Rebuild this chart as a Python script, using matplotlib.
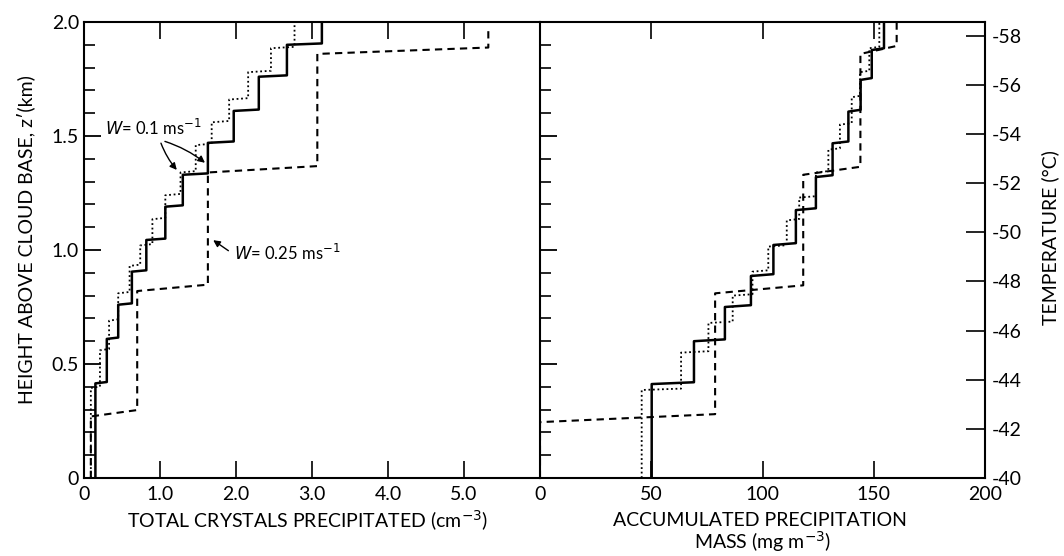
import matplotlib
matplotlib.use("Agg")
import matplotlib.pyplot as plt
from matplotlib.ticker import MultipleLocator, FixedLocator

plt.rcParams['font.family'] = ['Lato', 'DejaVu Sans']

# left panel: total crystals precipitated (cm-3); x between jumps, z = jump heights (km)
crys_solid_x = [0.15, 0.30, 0.45, 0.63, 0.82, 1.07, 1.30, 1.63, 1.97, 2.30, 2.67, 3.13]
crys_solid_z = [0.415, 0.61, 0.76, 0.905, 1.044, 1.19, 1.33, 1.47, 1.61, 1.76, 1.90]
crys_dot_x = [0.09, 0.21, 0.33, 0.45, 0.60, 0.74, 0.90, 1.07, 1.27, 1.47, 1.68, 1.91, 2.16, 2.46, 2.77]
crys_dot_z = [0.395, 0.56, 0.69, 0.81, 0.93, 1.02, 1.135, 1.24, 1.34, 1.46, 1.56, 1.66, 1.78, 1.885]
crys_dash_x = [0.09, 0.70, 1.63, 3.07, 5.32]
crys_dash_z = [0.27, 0.82, 1.34, 1.86]

# right panel: accumulated precipitation mass (mg m-3)
mass_solid_x = [50.2, 69.2, 83.1, 94.8, 104.9, 115.0, 124.0, 131.5, 138.6, 144.1, 149.1, 154.6]
mass_solid_z = [0.412, 0.60, 0.75, 0.886, 1.022, 1.175, 1.32, 1.468, 1.607, 1.746, 1.877]
mass_dot_x = [45.7, 63.4, 75.7, 86.6, 95.5, 102.6, 110.9, 116.5, 124.0, 129.6, 134.8, 140.1, 143.8, 148.0, 152.5]
mass_dot_z = [0.386, 0.55, 0.68, 0.80, 0.905, 1.015, 1.13, 1.23, 1.34, 1.44, 1.55, 1.67, 1.78, 1.885]
mass_dash_x = [0.0, 78.7, 118.3, 144.0, 160.3]
mass_dash_z = [0.245, 0.81, 1.33, 1.86]

temp_ticks = [-58, -56, -54, -52, -50, -48, -46, -44, -42, -40]


def staircase(xs, zs, rise, top=2.0):
    px, pz = [xs[0]], [0.0]
    for i, z in enumerate(zs):
        px += [xs[i], xs[i + 1]]
        pz += [z, z + rise]
    px.append(xs[-1])
    pz.append(top)
    return px, pz


fig = plt.figure(figsize=(10.64, 5.56), dpi=100)
W, H = 1064.0, 556.0
ax1 = fig.add_axes([84 / W, 78 / H, 456 / W, 456 / H])
ax2 = fig.add_axes([540 / W, 78 / H, 445 / W, 456 / H])

solid = dict(color='black', lw=1.8, ls='-')
dotted = dict(color='black', lw=1.3, ls=(0, (1, 1.5)))
dashed = dict(color='black', lw=1.5, ls=(0, (3.5, 2.5)))

x, z = staircase(crys_solid_x, crys_solid_z, 0.006)
ax1.plot(x, z, **solid)
x, z = staircase(crys_dot_x, crys_dot_z, 0.006)
ax1.plot(x, z, **dotted)
x, z = staircase(crys_dash_x, crys_dash_z, 0.028, top=1.98)
ax1.plot(x, z, **dashed)

x, z = staircase(mass_solid_x, mass_solid_z, 0.008)
ax2.plot(x, z, **solid)
x, z = staircase(mass_dot_x, mass_dot_z, 0.006)
ax2.plot(x, z, **dotted)
x, z = staircase(mass_dash_x, mass_dash_z, 0.035)
ax2.plot(x, z, **dashed)

for ax in (ax1, ax2):
    ax.set_ylim(0, 2.0)
    for s in ax.spines.values():
        s.set_linewidth(1.5)
    ax.yaxis.set_major_locator(MultipleLocator(0.5))
    ax.yaxis.set_minor_locator(MultipleLocator(0.1))
    ax.tick_params(axis='y', which='major', direction='in', length=12, width=1.3, left=True, right=False)
    ax.tick_params(axis='y', which='minor', direction='in', length=8, width=1.2, left=True, right=False)
    ax.tick_params(axis='x', which='major', direction='in', length=12, width=1.2, top=True, bottom=True,
                   labelsize=14, pad=6)
    ax.tick_params(axis='y', labelsize=14)

ax1.set_xlim(0, 6)
ax1.set_xticks([0, 1, 2, 3, 4, 5])
ax1.set_xticklabels(['0', '1.0', '2.0', '3.0', '4.0', '5.0'])
ax1.set_yticks([0, 0.5, 1.0, 1.5, 2.0])
ax1.set_yticklabels(['0', '0.5', '1.0', '1.5', '2.0'])
ax1.spines['right'].set_visible(False)

ax2.set_xlim(0, 200)
ax2.set_xticks([0, 50, 100, 150, 200])
ax2.set_xticklabels(['0', '50', '100', '150', '200'])
ax2.tick_params(axis='y', labelleft=False)

ax3 = ax2.twinx()
ax3.set_ylim(-40, -40 - 9.28 * 2.0)
ax3.yaxis.set_major_locator(FixedLocator(temp_ticks))
ax3.set_yticklabels(['-%d' % abs(t) for t in temp_ticks])
ax3.tick_params(axis='y', direction='in', length=14, width=1.2, labelsize=14, pad=5)
for s in ax3.spines.values():
    s.set_visible(False)

# annotations
ax1.text(0.28, 1.535, r'$W$= 0.1 ms$^{-1}$', fontsize=12, ha='left', va='center')
arrow = dict(arrowstyle='-|>', color='black', lw=1.0, mutation_scale=10)
ax1.annotate('', xy=(1.245, 1.342), xytext=(1.0, 1.48),
             arrowprops=dict(connectionstyle='arc3,rad=0.1', **arrow))
ax1.annotate('', xy=(1.62, 1.375), xytext=(1.03, 1.48),
             arrowprops=dict(connectionstyle='arc3,rad=-0.1', **arrow))
ax1.text(1.97, 0.985, r'$W$= 0.25 ms$^{-1}$', fontsize=12, ha='left', va='center')
ax1.annotate('', xy=(1.67, 1.05), xytext=(1.93, 0.99), arrowprops=dict(**arrow))

# axis labels
fig.text(26 / W, 1 - 240 / H, "HEIGHT ABOVE CLOUD BASE, z\u2032(km)", rotation=90,
         ha='center', va='center', fontsize=14)
fig.text(308 / W, 1 - 521 / H, "TOTAL CRYSTALS PRECIPITATED (cm$^{-3}$)",
         ha='center', va='center', fontsize=14)
fig.text(760 / W, 1 - 520 / H, "ACCUMULATED PRECIPITATION", ha='center', va='center', fontsize=14)
fig.text(763 / W, 1 - 542 / H, "MASS (mg m$^{-3}$)", ha='center', va='center', fontsize=14)
fig.text(1050 / W, 1 - 238 / H, "TEMPERATURE (\u00b0C)", rotation=90,
         ha='center', va='center', fontsize=14)

fig.savefig('out.png', dpi=100)
